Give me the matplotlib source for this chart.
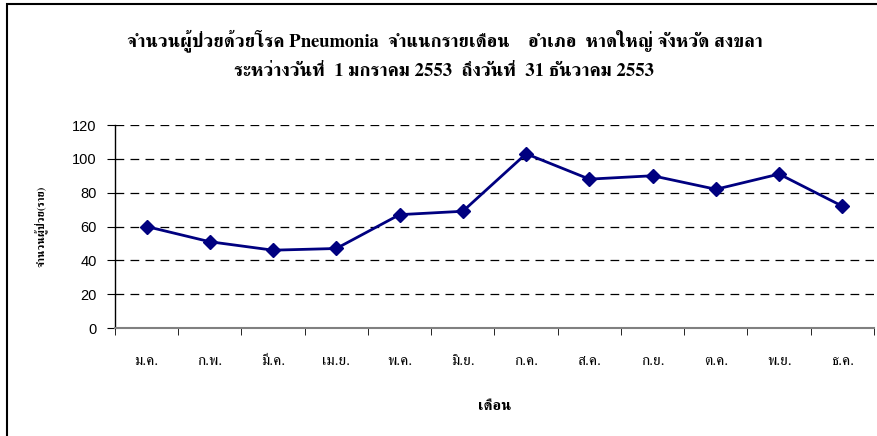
import matplotlib
matplotlib.use('Agg')
import matplotlib.pyplot as plt
from matplotlib.patches import Rectangle

months = ["ม.ค.", "ก.พ.", "มี.ค.", "เม.ย.", "พ.ค.", "มิ.ย.",
          "ก.ค.", "ส.ค.", "ก.ย.", "ต.ค.", "พ.ย.", "ธ.ค."]
patients = [60, 51, 46, 47, 67, 69, 103, 88, 90, 82, 91, 72]

title1 = "จำนวนผู้ป่วยด้วยโรค Pneumonia  จำแนกรายเดือน    อำเภอ  หาดใหญ่ จังหวัด สงขลา"
title2 = "ระหว่างวันที่  1 มกราคม 2553  ถึงวันที่  31 ธันวาคม 2553"
ylabel = "จำนวนผู้ป่วย(ราย)"
xlabel = "เดือน"

thai = ['FreeSerif', 'Noto Serif Thai']

fig = plt.figure(figsize=(8.77, 4.36), dpi=100)
ax = fig.add_axes([0.131, 0.2477, 0.8656, 0.4656])

x = list(range(len(months)))
ax.plot(x, patients, color='#000080', lw=2, marker='D', ms=7, zorder=3)

ax.set_xlim(-0.5, len(months) - 0.5)
ax.set_ylim(0, 120)
ax.set_yticks(range(0, 121, 20))
for v in range(20, 121, 20):
    ax.axhline(v, color='black', lw=0.9, ls=(0, (7, 5)), zorder=1)

ax.set_xticks(x)
ax.set_xticklabels(months, family=thai, fontsize=11)
ax.set_xticks([i - 0.5 for i in range(len(months) + 1)], minor=True)
ax.tick_params(axis='x', which='major', length=0, pad=19)
ax.tick_params(axis='x', which='minor', length=5, direction='out', color='black')
ax.tick_params(axis='y', length=6, direction='out', labelsize=10.5, pad=7)
for lab in ax.get_yticklabels():
    lab.set_family('Liberation Sans')

for s in ['top', 'right']:
    ax.spines[s].set_visible(False)
ax.spines['bottom'].set_color('#808080')
ax.spines['bottom'].set_linewidth(1.5)
ax.spines['left'].set_linewidth(1.0)

ax.set_xlabel(xlabel, family=thai, fontsize=11, fontweight='bold', labelpad=23)
ax.set_ylabel(ylabel, family=thai, fontsize=8, fontweight='bold', labelpad=17)

fig.text(0.507, 0.908, title1, ha='center', va='center', family=thai,
         fontsize=13.4, fontweight='bold')
fig.text(0.506, 0.835, title2, ha='center', va='center', family=thai,
         fontsize=13.5, fontweight='bold')

fig.patches.append(Rectangle((7 / 877, -0.1), 1.2, 1.1 - 4 / 436, transform=fig.transFigure,
                             fill=False, edgecolor='black', lw=1.5))

fig.savefig("out.png")
